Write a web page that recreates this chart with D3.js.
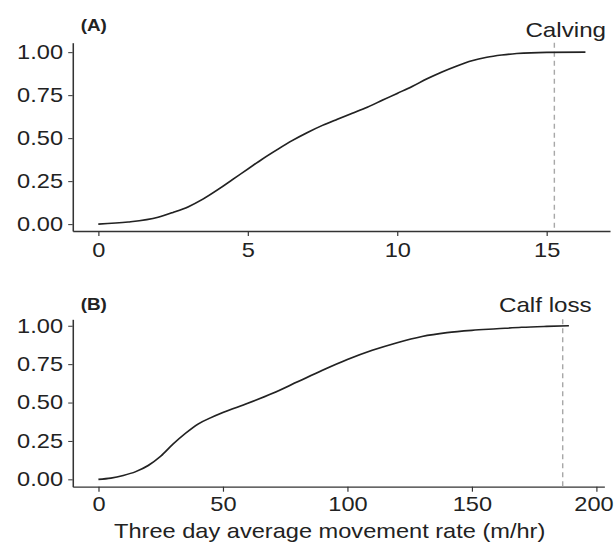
<!DOCTYPE html>
<html>
<head>
<meta charset="utf-8">
<script src="https://cdn.jsdelivr.net/npm/d3@7"></script>
<style>
  body { margin: 0; background: #fff; }
  svg text { font-family: "Liberation Sans", Arial, sans-serif; fill: #222; }
</style>
</head>
<body>
<div id="chart"></div>
<script>
// panel A: calving, movement rate vs cumulative proportion
var rateA = [0, 1, 2, 2.5, 3, 3.5, 4, 4.5, 5, 5.5, 6, 6.5, 7, 7.5, 8, 8.5, 9, 9.5, 10, 10.5, 11, 11.5, 12, 12.5, 13, 13.5, 14, 15, 16.3];
var propA = [0, 0.012, 0.04, 0.068, 0.1, 0.145, 0.2, 0.26, 0.32, 0.38, 0.435, 0.487, 0.533, 0.574, 0.61, 0.645, 0.68, 0.72, 0.76, 0.8, 0.845, 0.885, 0.92, 0.95, 0.97, 0.983, 0.992, 0.999, 1.0];
var eventA = 15.26;
var labelA = "Calving";

// panel B: calf loss
var rateB = [0, 5, 10, 15, 20, 25, 30, 35, 40, 45, 50, 60, 70, 80, 90, 100, 110, 120, 130, 140, 150, 160, 170, 180, 189];
var propB = [0, 0.008, 0.025, 0.05, 0.09, 0.15, 0.23, 0.3, 0.36, 0.4, 0.435, 0.495, 0.56, 0.635, 0.71, 0.78, 0.84, 0.89, 0.93, 0.955, 0.97, 0.98, 0.99, 0.996, 1.0];
var eventB = 186.5;
var labelB = "Calf loss";

var yTicks = [0, 0.25, 0.5, 0.75, 1];
var xTicksA = [0, 5, 10, 15];
var xTicksB = [0, 50, 100, 150, 200];
var xTitle = "Three day average movement rate (m/hr)";

// the original figure is a bit stretched sideways
var sx = 1.18;

var svg = d3.select("#chart").append("svg")
  .attr("width", 615)
  .attr("height", 555);
var g = svg.append("g").attr("transform", "scale(" + sx + ",1)");

// draw one panel
function drawPanel(cfg) {
  var x = d3.scaleLinear().domain(cfg.xDomain).range([61.6, cfg.right]);
  var y = d3.scaleLinear().domain(cfg.yDomain).range([cfg.bottom, cfg.top]);

  var xAxis = g.append("g")
    .attr("transform", "translate(0," + cfg.bottom + ")")
    .call(d3.axisBottom(x).tickValues(cfg.xTicks).tickSize(5).tickPadding(cfg.xPad).tickSizeOuter(0));
  var yAxis = g.append("g")
    .attr("transform", "translate(61.6,0)")
    .call(d3.axisLeft(y).tickValues(yTicks).tickFormat(d3.format(".2f")).tickSize(3.8).tickPadding(4.4).tickSizeOuter(0));

  [xAxis, yAxis].forEach(function(a) {
    a.select(".domain").attr("stroke", "#333").attr("stroke-width", 1.3);
    a.selectAll(".tick line").attr("stroke", "#333").attr("stroke-width", 1);
    a.selectAll(".tick text").style("font-size", "20px").attr("fill", "#222");
  });
  // keep the last label inside the page
  xAxis.selectAll(".tick text").filter(function(d) { return d === 200; }).attr("dx", -2.5);

  // vertical event line
  g.append("line")
    .attr("x1", x(cfg.event)).attr("x2", x(cfg.event))
    .attr("y1", cfg.top).attr("y2", cfg.bottom)
    .attr("stroke", "#a8a8a8")
    .attr("stroke-width", 1.2)
    .attr("stroke-dasharray", "5,4");

  var pts = cfg.xs.map(function(d, i) { return [d, cfg.ys[i]]; });
  var line = d3.line()
    .x(function(d) { return x(d[0]); })
    .y(function(d) { return y(d[1]); })
    .curve(d3.curveMonotoneX);
  g.append("path")
    .datum(pts)
    .attr("d", line)
    .attr("fill", "none")
    .attr("stroke", "#222")
    .attr("stroke-width", 1.6);

  g.append("text")
    .attr("x", 68.4).attr("y", cfg.tagY)
    .style("font-size", "16px")
    .style("font-weight", "bold")
    .text(cfg.tag);

  g.append("text")
    .attr("x", cfg.labelX).attr("y", cfg.labelY)
    .attr("text-anchor", "end")
    .style("font-size", "20.5px")
    .text(cfg.label);
}

drawPanel({
  xs: rateA, ys: propA, event: eventA, label: labelA, tag: "(A)",
  xTicks: xTicksA, xDomain: [-0.857, 17.12], right: 516.9, xPad: 7,
  yDomain: [-0.04, 1.055], top: 42.7, bottom: 231,
  tagY: 31, labelX: 513.6, labelY: 37
});

drawPanel({
  xs: rateB, ys: propB, event: eventB, label: labelB, tag: "(B)",
  xTicks: xTicksB, xDomain: [-10.33, 203.2], right: 512.1, xPad: 5,
  yDomain: [-0.048, 1.042], top: 319.3, bottom: 486.7,
  tagY: 310, labelX: 501.4, labelY: 312
});

g.append("text")
  .attr("x", 279.4).attr("y", 538)
  .attr("text-anchor", "middle")
  .style("font-size", "20px")
  .text(xTitle);
</script>
</body>
</html>
